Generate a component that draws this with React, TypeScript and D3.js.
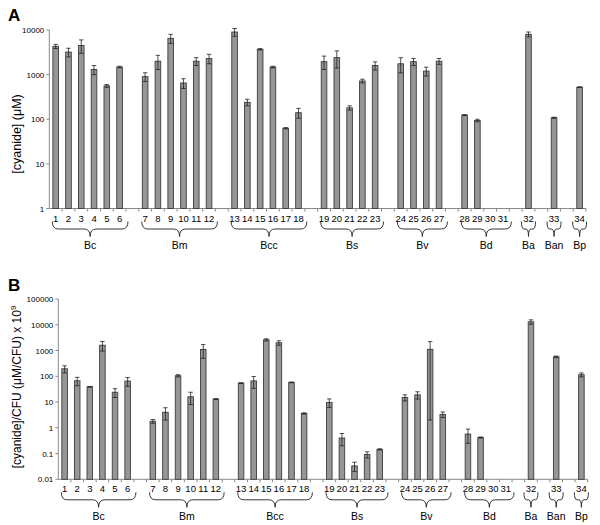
import { useEffect, useRef } from 'react';
import * as d3 from 'd3';

// Strain numbers and the species groups they belong to
const strains = Array.from({ length: 34 }, (_, i) => String(i + 1));
const groupNames = ['Bc', 'Bm', 'Bcc', 'Bs', 'Bv', 'Bd', 'Ba', 'Ban', 'Bp'];
const groupSizes = [6, 6, 6, 5, 4, 4, 1, 1, 1];

// Panel A: cyanide concentration (uM)
const cyanideA = [4300, 3200, 4500, 1300, 560, 1480, 900, 2000, 6500, 650, 2000, 2300,
  9000, 240, 3700, 1480, 63, 140, 1950, 2400, 180, 720, 1600, 1750, 1950, 1200, 2000,
  124, 94, null, null, 8000, 108, 523];
const errorA = [450, 700, 1500, 300, 40, 60, 200, 700, 1500, 160, 400, 550,
  1800, 40, 120, 60, 2, 35, 650, 1000, 20, 70, 330, 650, 350, 270, 300,
  3, 6, null, null, 1000, 3, 10];

// Panel B: cyanide per CFU (uM/CFU x 10^9)
const cyanideB = [195, 67, 39, 1600, 24, 65, 1.8, 4, 105, 16, 1100, 13,
  54, 66, 2600, 2000, 58, 3.6, 9.7, 0.4, 0.033, 0.092, 0.145, 15, 19, 1110, 3.3,
  0.57, 0.42, null, null, 13000, 570, 115];
const errorB = [60, 24, 1, 650, 9, 24, 0.3, 2, 10, 8, 600, 0.5,
  2, 32, 250, 400, 2, 0.2, 3.5, 0.2, 0.013, 0.025, 0.008, 4, 6, 1108, 0.8,
  0.32, 0.02, null, null, 2500, 40, 20];

const ticksA = [1, 10, 100, 1000, 10000];
const ticksB = [0.01, 0.1, 1, 10, 100, 1000, 10000, 100000];

const FONT = 'Liberation Sans, Arial, sans-serif';

// Categories on the x axis, with one blank slot between groups
const slotKeys: string[] = [];
const groupRanges: { name: string; first: string; last: string }[] = [];
{
  let idx = 0;
  groupSizes.forEach((size, g) => {
    if (g > 0) slotKeys.push(`gap${g}`);
    const members = strains.slice(idx, idx + size);
    members.forEach(s => slotKeys.push(s));
    groupRanges.push({ name: groupNames[g], first: members[0], last: members[members.length - 1] });
    idx += size;
  });
}

const bracePath = (x1: number, x2: number, yt: number, yb: number, r: number) => {
  const ym = (yt + yb) / 2;
  const xm = (x1 + x2) / 2;
  return `M${x1},${yt} Q${x1},${ym} ${x1 + r},${ym} L${xm - r},${ym} Q${xm},${ym} ${xm},${yb}` +
    ` Q${xm},${ym} ${xm + r},${ym} L${x2 - r},${ym} Q${x2},${ym} ${x2},${yt}`;
};

const drawPanel = (svg: any, cfg: any) => {
  const g = svg.append('g');
  const x = d3.scaleBand().domain(slotKeys).range([cfg.left, cfg.right]).padding(0);
  const y = d3.scaleLog().domain(cfg.domain).range([cfg.bottom, cfg.top]);
  const bw = x.bandwidth() * 0.44;
  const cx = (s: string) => (x(s) as number) + x.bandwidth() / 2;

  // y axis
  g.append('line')
    .attr('x1', cfg.left).attr('x2', cfg.left)
    .attr('y1', cfg.top).attr('y2', cfg.bottom)
    .attr('stroke', '#8a8a8a');
  cfg.ticks.forEach((t: number) => {
    g.append('line')
      .attr('x1', cfg.left - 3).attr('x2', cfg.left)
      .attr('y1', y(t)).attr('y2', y(t))
      .attr('stroke', '#8a8a8a');
    g.append('text')
      .attr('x', cfg.left - 5).attr('y', y(t) + 3)
      .attr('text-anchor', 'end')
      .style('font-family', FONT).style('font-size', '8px')
      .text(String(t));
  });

  // x axis with tick marks between categories
  g.append('line')
    .attr('x1', cfg.left).attr('x2', cfg.right)
    .attr('y1', cfg.bottom).attr('y2', cfg.bottom)
    .attr('stroke', '#8a8a8a');
  slotKeys.forEach(k => {
    const xr = (x(k) as number) + x.bandwidth();
    g.append('line')
      .attr('x1', xr).attr('x2', xr)
      .attr('y1', cfg.bottom).attr('y2', cfg.bottom + 3)
      .attr('stroke', '#8a8a8a');
  });

  // bars
  const rows = strains.map((s, i) => ({ s, v: cfg.values[i], e: cfg.errors[i] }))
    .filter(d => d.v != null);
  g.selectAll('.bar')
    .data(rows)
    .enter()
    .append('rect')
    .attr('x', (d: any) => cx(d.s) - bw / 2)
    .attr('y', (d: any) => y(d.v))
    .attr('width', bw)
    .attr('height', (d: any) => cfg.bottom - y(d.v))
    .attr('fill', '#969696')
    .attr('stroke', '#3c3c3c')
    .attr('stroke-width', 0.9);

  // error bars
  rows.forEach((d: any) => {
    const lo = Math.max(d.v - d.e, cfg.domain[0]);
    const hi = d.v + d.e;
    const xc = cx(d.s);
    g.append('line')
      .attr('x1', xc).attr('x2', xc)
      .attr('y1', y(hi)).attr('y2', y(lo))
      .attr('stroke', '#222').attr('stroke-width', 0.8);
    [hi, lo].forEach(v => {
      g.append('line')
        .attr('x1', xc - 2.2).attr('x2', xc + 2.2)
        .attr('y1', y(v)).attr('y2', y(v))
        .attr('stroke', '#222').attr('stroke-width', 0.8);
    });
  });

  // strain numbers
  strains.forEach(s => {
    g.append('text')
      .attr('x', cx(s)).attr('y', cfg.bottom + 13)
      .attr('text-anchor', 'middle')
      .style('font-family', FONT).style('font-size', '9.5px')
      .text(s);
  });

  // group braces and names
  const half = x.bandwidth() / 2;
  groupRanges.forEach(gr => {
    const single = gr.first === gr.last;
    const x1 = single ? cx(gr.first) - 7 : cx(gr.first) - half + 3;
    const x2 = single ? cx(gr.last) + 7 : cx(gr.last) + half + 2;
    const yt = cfg.bottom + 13;
    const yb = cfg.bottom + 28;
    g.append('path')
      .attr('d', bracePath(x1, x2, yt, yb, single ? 2.5 : 6))
      .attr('fill', 'none')
      .attr('stroke', '#222')
      .attr('stroke-width', 0.9);
    g.append('text')
      .attr('x', (x1 + x2) / 2).attr('y', cfg.bottom + 40.5)
      .attr('text-anchor', 'middle')
      .style('font-family', FONT).style('font-size', '10.5px')
      .text(gr.name);
  });

  // panel letter and y title
  svg.append('text')
    .attr('x', 8).attr('y', cfg.letterY)
    .style('font-family', FONT).style('font-size', '17px').style('font-weight', 'bold')
    .text(cfg.letter);
  const title = svg.append('text')
    .attr('text-anchor', 'middle')
    .attr('transform', `translate(21,${cfg.titleY})rotate(-90)`)
    .style('font-family', FONT).style('font-size', cfg.titleSize);
  title.append('tspan').text(cfg.title);
  if (cfg.titleSup) {
    title.append('tspan').attr('dy', -5).style('font-size', '8px').text(cfg.titleSup);
  }
};

const App = () => {
  const svgRef = useRef<SVGSVGElement>(null);

  useEffect(() => {
    const svg = d3.select(svgRef.current)
      .attr('width', 600)
      .attr('height', 525)
      .style('background-color', '#ffffff');

    svg.selectAll('*').remove();

    drawPanel(svg, {
      left: 49.3, right: 586, top: 30, bottom: 208.5,
      domain: [1, 10000], ticks: ticksA,
      values: cyanideA, errors: errorA,
      letter: 'A', letterY: 21,
      title: '[cyanide] (\u03bcM)', titleY: 134, titleSize: '12.5px',
    });

    drawPanel(svg, {
      left: 58.3, right: 587.7, top: 299, bottom: 479.3,
      domain: [0.01, 100000], ticks: ticksB,
      values: cyanideB, errors: errorB,
      letter: 'B', letterY: 291,
      title: '[cyanide]/CFU (\u03bcM/CFU) x 10', titleSup: '9', titleY: 387, titleSize: '12px',
    });
  }, []);

  return <svg ref={svgRef} style={{ position: 'absolute', left: 0, top: 0 }}></svg>;
};

export default App;
